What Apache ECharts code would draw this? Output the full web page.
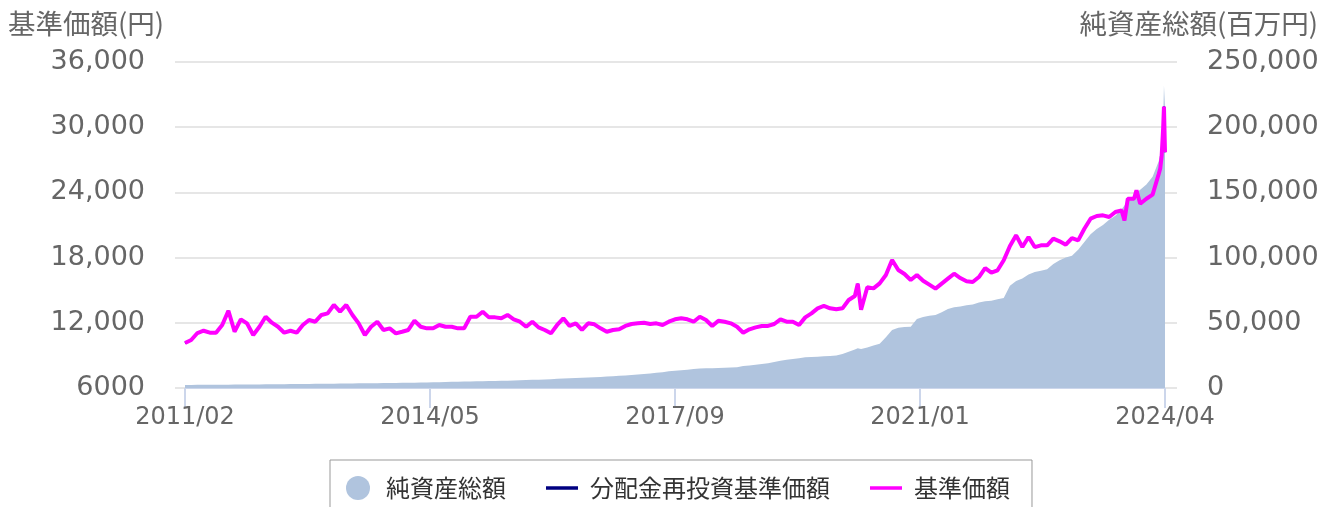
<!DOCTYPE html>
<html>
<head>
<meta charset="utf-8">
<title>基準価額・純資産総額の推移</title>
<script src="https://cdn.jsdelivr.net/npm/echarts@6.0.0/dist/echarts.min.js"></script>
<style>
  html, body { margin: 0; padding: 0; background: #fff; }
  #chart { width: 1323px; height: 507px; }
</style>
</head>
<body>
<div id="chart"></div>
<script>
// 月次の値 (2011/02 〜 2024/04, 各月初)
var startYear = 2011
var startMonth = 2
var monthCount = 159

// 基準価額(円)
var navMonthly = [
  10140, 10420, 11060, 11270, 11090, 11090, 11800, 13110, 11180, 12320, 11950, // 2011
  10880, 11640, 12560, 12010, 11640, 11090, 11270, 11090, 11800, 12260, 12100, 12720, // 2012
  12870, 13640, 13020, 13640, 12720, 11950, 10880, 11640, 12100, 11340, 11490, 11030, // 2013
  11180, 11340, 12190, 11640, 11490, 11490, 11800, 11640, 11640, 11490, 11490, 12560, // 2014
  12560, 13020, 12500, 12500, 12410, 12720, 12320, 12100, 11640, 12100, 11580, 11340, // 2015
  11030, 11800, 12410, 11710, 11950, 11340, 11950, 11860, 11490, 11180, 11340, 11400, // 2016
  11710, 11890, 11950, 12010, 11890, 11950, 11800, 12100, 12320, 12410, 12320, 12100, // 2017
  12560, 12260, 11710, 12190, 12100, 11950, 11640, 11090, 11400, 11580, 11710, 11710, // 2018
  11890, 12320, 12100, 12100, 11800, 12500, 12870, 13330, 13550, 13330, 13240, 13330, // 2019
  14100, 14470, 13200, 15270, 15170, 15630, 16400, 17780, 16860, 16490, 15940, 16400, // 2020
  15870, 15510, 15140, 15600, 16060, 16520, 16120, 15820, 15750, 16210, 17040, 16610, // 2021
  16830, 17750, 19070, 20050, 18970, 19890, 18970, 19130, 19130, 19740, 19500, 19190, // 2022
  19800, 19590, 20660, 21580, 21830, 21890, 21740, 22200, 22350, 23420, 23420, 22960, // 2023
  23420, 23790, 25720, 27700 // 2024
]

// 純資産総額(百万円)
var assetMonthly = [
  2300, 2350, 2400, 2450, 2450, 2500, 2550, 2550, 2600, 2650, 2700, // 2011
  2700, 2750, 2800, 2850, 2900, 2950, 3000, 3050, 3100, 3150, 3200, 3250, // 2012
  3300, 3350, 3400, 3450, 3500, 3550, 3600, 3650, 3700, 3750, 3800, 3900, // 2013
  4000, 4050, 4100, 4200, 4300, 4400, 4500, 4600, 4700, 4800, 4900, 5000, // 2014
  5100, 5200, 5300, 5400, 5500, 5650, 5800, 5950, 6100, 6250, 6400, 6600, // 2015
  6800, 7000, 7200, 7400, 7600, 7800, 8000, 8300, 8500, 8800, 9000, 9300, // 2016
  9600, 10000, 10300, 10700, 11100, 11600, 12100, 12800, 13200, 13600, 14000, 14500, // 2017
  15000, 15100, 15200, 15300, 15500, 15700, 16000, 16800, 17200, 17800, 18400, 19000, // 2018
  20000, 20900, 21600, 22300, 22900, 23500, 23800, 24000, 24300, 24500, 25000, 26000, // 2019
  27800, 29500, 30000, 31000, 32500, 34000, 39000, 44500, 46200, 46800, 47000, 53000, // 2020
  54500, 55500, 56000, 58000, 60500, 62000, 62500, 63500, 64000, 65500, 66500, 67000, // 2021
  68000, 69000, 78500, 82000, 84000, 87000, 89000, 90000, 91000, 95000, 98000, 100000, // 2022
  101500, 106000, 112000, 118000, 122000, 125000, 129000, 132000, 137000, 143000, 147000, 152000, // 2023
  156000, 162000, 174000, 215000 // 2024
]

// 月中の急な動き
var extraDates = ['2020/02/15', '2023/09/15', '2023/11/13', '2024/03/08', '2024/03/15', '2024/03/22', '2024/03/26']
var extraNav = [15600, 21430, 24190, 26200, 27400, 29900, 31900]
var extraAssets = [30400, 140000, 150000, 180000, 190000, 205000, 232000]

var tickLabels = ['2011/02', '2014/05', '2017/09', '2021/01', '2024/04']

// 2011/02 からの月数
function monthPos(y, m, d) {
  return (y - startYear) * 12 + (m - startMonth) + (d - 1) / 30
}

var navData = []
var assetData = []
for (var i = 0; i < monthCount; i++) {
  navData.push([i, navMonthly[i]])
  assetData.push([i, assetMonthly[i]])
}
extraDates.forEach(function(s, k) {
  var p = s.split('/').map(Number)
  var x = monthPos(p[0], p[1], p[2])
  navData.push([x, extraNav[k]])
  assetData.push([x, extraAssets[k]])
})
var byX = function(a, b) { return a[0] - b[0] }
navData.sort(byX)
assetData.sort(byX)

var tickStep = (monthCount - 1) / (tickLabels.length - 1)
var numFont = 'DejaVu Sans'
var jpFont = '"Noto Sans CJK JP", sans-serif'
// 凡例の線アイコン (横棒)
var lineIcon = 'path://M0,0h32v3.5h-32z'

function fmtNum(v) {
  if (v < 10000) return String(v)
  return v.toString().replace(/\B(?=(\d{3})+(?!\d))/g, ',')
}

var chart = echarts.init(document.getElementById('chart'))
chart.setOption({
  animation: false,
  backgroundColor: '#fff',
  title: [{
    text: '基準価額(円)',
    left: 8,
    top: 10,
    padding: 0,
    textStyle: { fontFamily: jpFont, fontSize: 27.5, fontWeight: 'normal', color: '#666' }
  }, {
    text: '純資産総額(百万円)',
    right: 5,
    top: 10,
    padding: 0,
    textStyle: { fontFamily: jpFont, fontSize: 27.5, fontWeight: 'normal', color: '#666' }
  }],
  grid: { left: 185, right: 158, top: 62, bottom: 119 },
  legend: {
    left: 330,
    top: 460,
    padding: [16, 22, 16, 16],
    itemGap: 40,
    itemWidth: 32,
    itemHeight: 24,
    symbolKeepAspect: true,
    borderColor: '#999',
    borderWidth: 1,
    textStyle: { fontFamily: jpFont, fontSize: 24, color: '#333', padding: [0, 0, 0, 7] },
    data: [
      { name: '純資産総額', icon: 'circle' },
      { name: '分配金再投資基準価額', icon: lineIcon },
      { name: '基準価額', icon: lineIcon }
    ]
  },
  xAxis: {
    type: 'value',
    min: 0,
    max: monthCount - 1,
    interval: tickStep,
    axisLine: { lineStyle: { color: '#ccd6eb', width: 2 } },
    axisTick: { length: 20, lineStyle: { color: '#ccd6eb', width: 2 } },
    splitLine: { show: false },
    axisLabel: {
      margin: 18,
      fontFamily: numFont,
      fontSize: 24,
      color: '#666',
      formatter: function(v) {
        return tickLabels[Math.round(v / tickStep)] || ''
      }
    }
  },
  yAxis: [{
    type: 'value',
    min: 6000,
    max: 36000,
    interval: 6000,
    axisLine: { show: false },
    axisTick: { show: true, length: 10, lineStyle: { color: '#e6e6e6', width: 2 } },
    splitLine: { lineStyle: { color: '#e6e6e6', width: 2 } },
    axisLabel: { margin: 40, fontFamily: numFont, fontSize: 27, color: '#666', formatter: fmtNum }
  }, {
    type: 'value',
    position: 'right',
    min: 0,
    max: 250000,
    interval: 50000,
    axisLine: { show: false },
    axisTick: { show: true, length: 12, lineStyle: { color: '#e6e6e6', width: 2 } },
    splitLine: { show: false },
    axisLabel: { margin: 42, fontFamily: numFont, fontSize: 27, color: '#666', formatter: fmtNum }
  }],
  series: [{
    name: '純資産総額',
    type: 'line',
    yAxisIndex: 1,
    data: assetData,
    symbol: 'none',
    clip: false,
    itemStyle: { color: '#b0c4de' },
    lineStyle: { width: 0, opacity: 0 },
    areaStyle: { color: '#b0c4de', opacity: 1 },
    z: 1
  }, {
    name: '分配金再投資基準価額',
    type: 'line',
    yAxisIndex: 0,
    data: navData,
    symbol: 'none',
    clip: false,
    itemStyle: { color: '#000080' },
    lineStyle: { color: '#000080', width: 2 },
    z: 2
  }, {
    name: '基準価額',
    type: 'line',
    yAxisIndex: 0,
    data: navData,
    symbol: 'none',
    clip: false,
    itemStyle: { color: '#ff00ff' },
    lineStyle: { color: '#ff00ff', width: 4 },
    z: 3
  }]
})
</script>
</body>
</html>
